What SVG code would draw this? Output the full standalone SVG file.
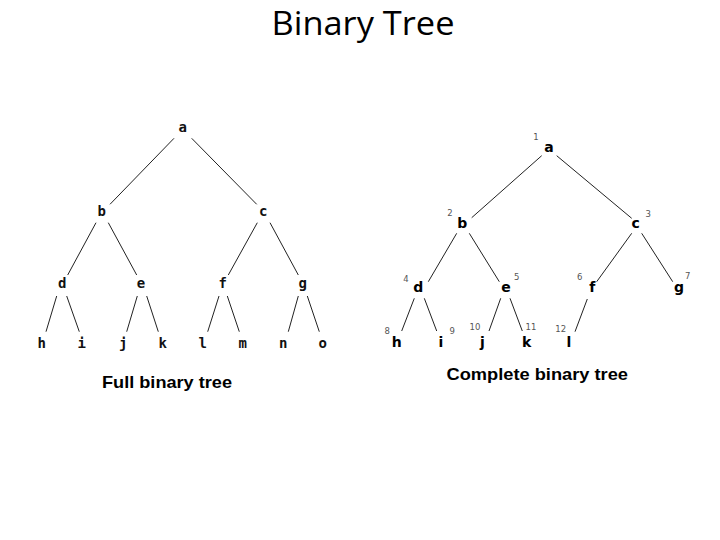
<svg xmlns="http://www.w3.org/2000/svg" width="720" height="540" viewBox="0 0 720 540">
<style>
.title{font-family:"Open Sans","Liberation Sans",sans-serif;font-size:33px;fill:#000}
.cap{font-family:"Liberation Sans",Arial,sans-serif;font-weight:bold;font-size:17px;fill:#000}
.fn{font-family:"DejaVu Sans Mono",monospace;font-weight:bold;font-size:14px;fill:#111;text-anchor:middle}
.cn{font-family:"DejaVu Sans",sans-serif;font-weight:bold;font-size:14px;fill:#000;text-anchor:middle}
.num{font-family:"DejaVu Sans",sans-serif;font-size:8.5px;fill:#555;text-anchor:middle}
.edge{stroke:#222;stroke-width:1;fill:none}
</style>
<rect width="720" height="540" fill="#fff"/>
<text class="title" x="271.5" y="35" textLength="183" lengthAdjust="spacingAndGlyphs">Binary Tree</text>

<g id="connectors">
<g id="full-edges">
<line class="edge" x1="174" y1="138.3" x2="110" y2="204.3"/>
<line class="edge" x1="191.7" y1="138.3" x2="256.7" y2="204.3"/>
<line class="edge" x1="96" y1="222.7" x2="67.7" y2="275"/>
<line class="edge" x1="108.3" y1="222.7" x2="136.7" y2="275"/>
<line class="edge" x1="257.3" y1="222.7" x2="228.3" y2="275"/>
<line class="edge" x1="270" y1="222.7" x2="298.3" y2="275"/>
<line class="edge" x1="56.7" y1="296" x2="46" y2="331.7"/>
<line class="edge" x1="66.7" y1="296" x2="79.3" y2="331.7"/>
<line class="edge" x1="137.3" y1="296" x2="126.7" y2="331.7"/>
<line class="edge" x1="146.7" y1="296" x2="158.3" y2="331.7"/>
<line class="edge" x1="219" y1="296" x2="207.7" y2="331.7"/>
<line class="edge" x1="227.3" y1="296" x2="239.3" y2="331.7"/>
<line class="edge" x1="298.3" y1="296" x2="288.3" y2="331.7"/>
<line class="edge" x1="307.3" y1="296" x2="319.3" y2="331.7"/>
</g>
<g id="complete-edges">
<line class="edge" x1="541.7" y1="155.7" x2="471.7" y2="217.7"/>
<line class="edge" x1="556.7" y1="155.7" x2="631.7" y2="218.3"/>
<line class="edge" x1="456.7" y1="233.3" x2="428.3" y2="281.7"/>
<line class="edge" x1="469.3" y1="233.3" x2="499.3" y2="281.7"/>
<line class="edge" x1="631.7" y1="233.3" x2="596.7" y2="281.7"/>
<line class="edge" x1="641.7" y1="233.3" x2="672.7" y2="281.7"/>
<line class="edge" x1="414.3" y1="298.3" x2="401.7" y2="331"/>
<line class="edge" x1="424.3" y1="298.3" x2="436.7" y2="331"/>
<line class="edge" x1="500.7" y1="298.3" x2="489" y2="331"/>
<line class="edge" x1="510" y1="298.3" x2="522.3" y2="331"/>
<line class="edge" x1="587.3" y1="299" x2="575" y2="331.7"/>
</g>
</g>

<g id="full-tree">
<g id="f-a"><text class="fn" x="182.7" y="131.7">a</text></g>
<g id="f-b"><text class="fn" x="101.7" y="216">b</text></g>
<g id="f-c"><text class="fn" x="263.3" y="216">c</text></g>
<g id="f-d"><text class="fn" x="62.3" y="288.3">d</text></g>
<g id="f-e"><text class="fn" x="141" y="288.3">e</text></g>
<g id="f-f"><text class="fn" x="222.7" y="288.3">f</text></g>
<g id="f-g"><text class="fn" x="302.7" y="288.3">g</text></g>
<g id="f-h"><text class="fn" x="41.7" y="348.3">h</text></g>
<g id="f-i"><text class="fn" x="81.7" y="348.3">i</text></g>
<g id="f-j"><text class="fn" x="123.3" y="348.3">j</text></g>
<g id="f-k"><text class="fn" x="162.7" y="348.3">k</text></g>
<g id="f-l"><text class="fn" x="202.7" y="348.3">l</text></g>
<g id="f-m"><text class="fn" x="242.7" y="348.3">m</text></g>
<g id="f-n"><text class="fn" x="283.3" y="348.3">n</text></g>
<g id="f-o"><text class="fn" x="322.7" y="348.3">o</text></g>
</g>

<g id="complete-tree">
<g id="c-a"><text class="cn" x="549" y="152.3">a</text><text class="num" x="536" y="140.3">1</text></g>
<g id="c-b"><text class="cn" x="462.3" y="227.7">b</text><text class="num" x="450" y="216">2</text></g>
<g id="c-c"><text class="cn" x="635.7" y="227.7">c</text><text class="num" x="648.3" y="216.7">3</text></g>
<g id="c-d"><text class="cn" x="418.3" y="292.3">d</text><text class="num" x="406" y="281.7">4</text></g>
<g id="c-e"><text class="cn" x="506" y="292.3">e</text><text class="num" x="516.7" y="280">5</text></g>
<g id="c-f"><text class="cn" x="592.3" y="292.3">f</text><text class="num" x="579.7" y="280">6</text></g>
<g id="c-g"><text class="cn" x="679" y="292.3">g</text><text class="num" x="687.7" y="279.3">7</text></g>
<g id="c-h"><text class="cn" x="396.7" y="346.7">h</text><text class="num" x="387.3" y="334">8</text></g>
<g id="c-i"><text class="cn" x="441" y="346.7">i</text><text class="num" x="452.3" y="334">9</text></g>
<g id="c-j"><text class="cn" x="482.3" y="346.7">j</text><text class="num" x="475" y="330">10</text></g>
<g id="c-k"><text class="cn" x="526.7" y="346.7">k</text><text class="num" x="531" y="330">11</text></g>
<g id="c-l"><text class="cn" x="569" y="346.7">l</text><text class="num" x="560.7" y="331.7">12</text></g>
</g>

<text class="cap" x="102" y="388.3" textLength="130" lengthAdjust="spacingAndGlyphs">Full binary tree</text>
<text class="cap" x="446.5" y="380" textLength="181.5" lengthAdjust="spacingAndGlyphs">Complete binary tree</text>
</svg>
